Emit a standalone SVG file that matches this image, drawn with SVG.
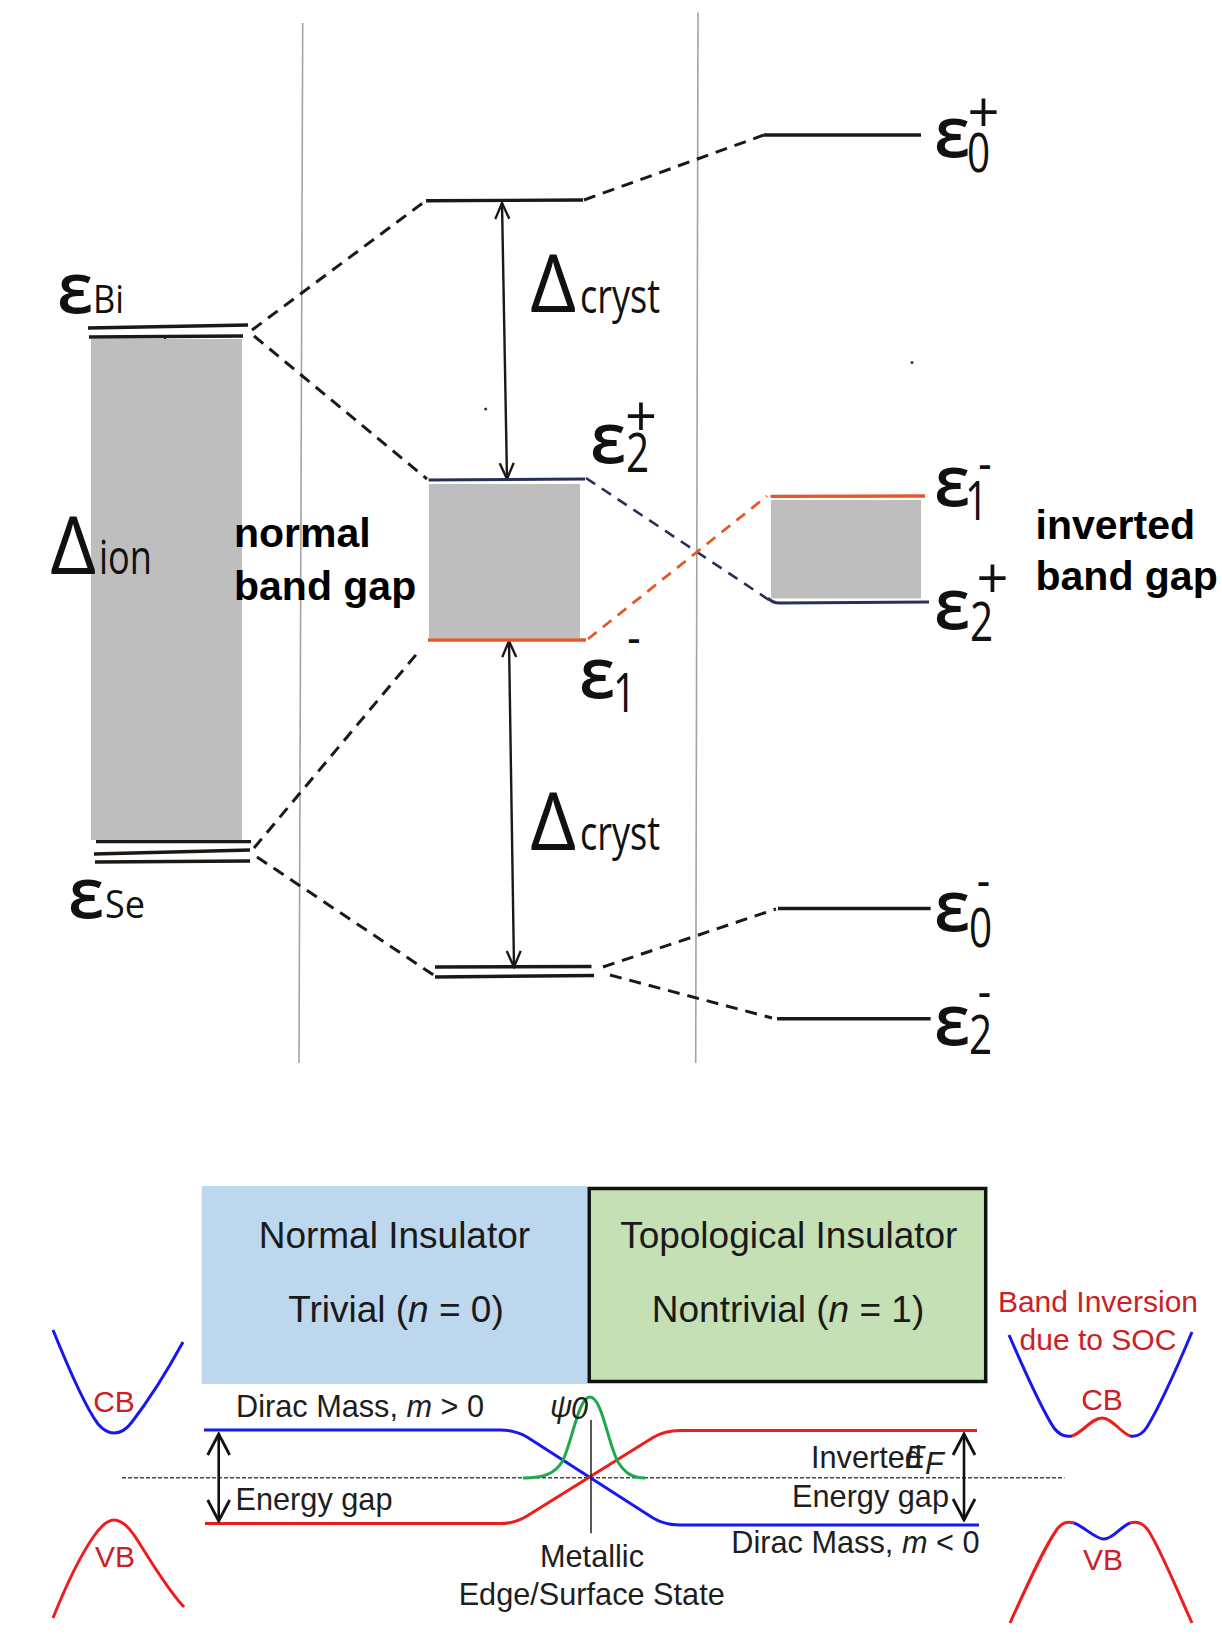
<svg xmlns="http://www.w3.org/2000/svg" width="1222" height="1636" viewBox="0 0 1222 1636">
<style>
.guide{stroke:#a3a3a3;stroke-width:1.6;fill:none}
.lvl{stroke:#1c1815;stroke-width:3.4;fill:none;stroke-linecap:butt}
.navy{stroke:#27305c;stroke-width:3;fill:none}
.orng{stroke:#e2592a;stroke-width:3.4;fill:none}
.gap{fill:#bebebe}
.dash{stroke:#1c1815;stroke-width:3;fill:none;stroke-dasharray:12 8}
.dashN{stroke:#27305c;stroke-width:2.6;fill:none;stroke-dasharray:11 8}
.dashO{stroke:#e2592a;stroke-width:2.8;fill:none;stroke-dasharray:11 8}
.arr{stroke:#1c1815;stroke-width:2.4;fill:none;marker-start:url(#chev1);marker-end:url(#chev1)}
.arr2{stroke:#111;stroke-width:2.6;fill:none;marker-start:url(#chev2);marker-end:url(#chev2)}
.eps{font-family:"Open Sans","Noto Sans",sans-serif;font-size:70px;font-weight:600;fill:#111}
.dig{font-family:"Open Sans","Noto Sans",sans-serif;font-size:54px;fill:#111}
.pm{font-family:"Open Sans","Noto Sans",sans-serif;font-size:56px;fill:#111}
.mn{font-family:"Open Sans","Noto Sans",sans-serif;font-size:40px;font-weight:600;fill:#111}
.del{font-family:"Open Sans","Noto Sans",sans-serif;font-size:80px;fill:#111}
.subt{font-family:"Open Sans","Noto Sans",sans-serif;font-size:47px;fill:#111}
.el{font-family:"Open Sans","Noto Sans",sans-serif;font-size:38px;fill:#111}
.bold{font-family:"Liberation Sans",Arial,sans-serif;font-size:41px;font-weight:bold;fill:#000}
.hd{font-family:"Liberation Sans",Arial,sans-serif;font-size:37px;fill:#1a1a1a;text-anchor:middle}
.bt{font-family:"Liberation Sans",Arial,sans-serif;font-size:30.7px;fill:#1e1e1e}
.rt{font-family:"Liberation Sans",Arial,sans-serif;font-size:30px;fill:#cc2026;text-anchor:middle}
.bl{stroke:#1717ee;stroke-width:3;fill:none}
.rd{stroke:#ee1c1c;stroke-width:3;fill:none}
</style>
<defs>
<marker id="chev1" viewBox="-20 -10 22 20" refX="0" refY="0" markerWidth="22" markerHeight="20" orient="auto-start-reverse" markerUnits="userSpaceOnUse">
<path d="M-16,-7 L0,0 L-16,7" fill="none" stroke="#1c1815" stroke-width="2.4"/>
</marker>
<marker id="chev2" viewBox="-24 -13 26 26" refX="0" refY="0" markerWidth="26" markerHeight="26" orient="auto-start-reverse" markerUnits="userSpaceOnUse">
<path d="M-21,-11 L0,0 L-21,11" fill="none" stroke="#111" stroke-width="2.8"/>
</marker>
</defs>
<rect width="1222" height="1636" fill="#fff"/>

<g id="guides">
<line class="guide" x1="302.7" y1="23" x2="299" y2="1063"/>
<line class="guide" x1="698" y1="12.5" x2="695.7" y2="1063"/>
</g>

<g id="connectors">
<path class="dash" d="M252,330 L424,202"/>
<path class="dash" d="M254,336 L427,479"/>
<path class="dash" d="M254,848 L420,650"/>
<path class="dash" d="M257,857 L435,976"/>
<path class="dash" d="M584,200 L764,135"/>
<path class="dashN" d="M586,478 L769,600"/>
<path class="dashO" d="M588,639 L767,496"/>
<path class="dash" d="M603,967 L776,909"/>
<path class="dash" d="M610,975 L772,1018"/>
<path class="arr" d="M165,339 L171,841"/>
<path class="arr" d="M502,203 L507,479"/>
<path class="arr" d="M509,641 L514,967"/>
</g>

<g id="atomic-Bi">
<rect class="gap" x="91" y="339" width="151" height="501"/>
<line class="lvl" x1="88" y1="328" x2="248" y2="325"/>
<line class="lvl" x1="89" y1="337" x2="243" y2="336"/>
<text class="eps" x="57" y="313">ε</text>
<text class="el" x="93" y="313" textLength="31" lengthAdjust="spacingAndGlyphs">Bi</text>
</g>

<g id="atomic-Se">
<line class="lvl" x1="96" y1="841.6" x2="251" y2="841.6"/>
<line class="lvl" x1="94" y1="854" x2="250" y2="850"/>
<line class="lvl" x1="95" y1="862" x2="250" y2="861"/>
<text class="eps" x="68" y="918">ε</text>
<text class="el" x="105" y="918" textLength="40" lengthAdjust="spacingAndGlyphs">Se</text>
</g>

<g id="ion-gap">
<text class="del" x="50" y="574">Δ</text>
<text class="subt" x="99" y="574" textLength="53" lengthAdjust="spacingAndGlyphs">ion</text>
<text class="bold" x="234" y="547">normal</text>
<text class="bold" x="234" y="600">band gap</text>
</g>

<g id="crystal-top">
<line class="lvl" x1="426" y1="200.7" x2="583" y2="200"/>
</g>

<g id="crystal-gap">
<rect class="gap" x="429" y="484" width="151" height="154"/>
<line class="navy" x1="428.6" y1="480" x2="585" y2="479"/>
<line class="orng" x1="428" y1="640" x2="586" y2="640"/>
<text class="eps" x="590" y="463">ε</text>
<text class="dig" transform="translate(626,472) scale(0.75,1)">2</text>
<text class="pm" x="625" y="436">+</text>
<text class="eps" x="579" y="698">ε</text>
<text class="dig" transform="translate(613,712) scale(0.75,1)">1</text>
<text class="mn" x="627.6" y="652">-</text>
</g>

<g id="crystal-bottom">
<line class="lvl" x1="435" y1="967" x2="591.5" y2="966.5"/>
<line class="lvl" x1="435" y1="977" x2="594" y2="975.5"/>
</g>

<g id="cryst-labels">
<text class="del" x="530" y="312">Δ</text>
<text class="subt" x="580" y="312.7" textLength="80" lengthAdjust="spacingAndGlyphs">cryst</text>
<text class="del" x="530" y="850">Δ</text>
<text class="subt" x="580" y="850" textLength="80" lengthAdjust="spacingAndGlyphs">cryst</text>
</g>

<g id="soc-e0p">
<line class="lvl" x1="764" y1="135" x2="921" y2="135"/>
<text class="eps" x="934" y="157">ε</text>
<text class="dig" transform="translate(967,172) scale(0.75,1)">0</text>
<text class="pm" x="967.5" y="131.7">+</text>
</g>

<g id="soc-gap">
<rect class="gap" x="771" y="500" width="150" height="98.5"/>
<line class="orng" x1="770.5" y1="496.4" x2="925" y2="496"/>
<path class="navy" d="M768,598 Q772,603 780,603 L929,602"/>
<text class="eps" x="934" y="506">ε</text>
<text class="dig" transform="translate(965,520) scale(0.75,1)">1</text>
<text class="mn" x="978.6" y="478">-</text>
<text class="eps" x="934" y="629">ε</text>
<text class="dig" transform="translate(970,641) scale(0.75,1)">2</text>
<text class="pm" x="976.5" y="598">+</text>
<text class="bold" x="1035.5" y="539">inverted</text>
<text class="bold" x="1035.5" y="590">band gap</text>
</g>

<g id="soc-e0m">
<line class="lvl" x1="778" y1="908.5" x2="930.6" y2="908.5"/>
<text class="eps" x="934" y="931">ε</text>
<text class="dig" transform="translate(969,947) scale(0.75,1)">0</text>
<text class="mn" x="977" y="894.5">-</text>
</g>

<g id="soc-e2m">
<line class="lvl" x1="777" y1="1018.7" x2="930.6" y2="1018.7"/>
<text class="eps" x="934" y="1045">ε</text>
<text class="dig" transform="translate(969,1054) scale(0.75,1)">2</text>
<text class="mn" x="978" y="1006">-</text>
</g>

<g id="specks">
<circle cx="485.7" cy="409" r="1.5" fill="#333"/>
<circle cx="912" cy="362.5" r="1.5" fill="#333"/>
</g>

<g id="normal-insulator">
<rect x="201.7" y="1186" width="385.5" height="198" fill="#bdd7ee"/>
<text class="hd" x="394.4" y="1248">Normal Insulator</text>
<text class="hd" x="396" y="1321.7">Trivial (<tspan font-style="italic">n</tspan> = 0)</text>
</g>

<g id="topological-insulator">
<rect x="589.2" y="1188.5" width="396.5" height="193" fill="#c5e0b4" stroke="#111" stroke-width="3.5"/>
<text class="hd" x="788.8" y="1248">Topological Insulator</text>
<text class="hd" x="788" y="1321.7">Nontrivial (<tspan font-style="italic">n</tspan> = 1)</text>
</g>

<g id="left-bands">
<path class="bl" d="M53,1330 C70,1372 86,1408 98,1424 C104,1431 109,1433 114,1433 C120,1433 126,1430 132,1422 C145,1405 165,1375 183,1342"/>
<text class="rt" x="114" y="1411.7">CB</text>
<path class="rd" d="M53,1618 C65,1588 80,1556 94,1536 C101,1526 107,1520 114,1520 C121,1520 127,1525 134,1535 C148,1556 166,1588 184,1607"/>
<text class="rt" x="115" y="1566.7">VB</text>
</g>

<g id="right-bands">
<text class="rt" x="1098" y="1311.7">Band Inversion</text>
<text class="rt" x="1098" y="1350">due to SOC</text>
<path class="bl" d="M1009,1335 C1025,1372 1042,1410 1054,1428 C1060,1436 1066,1437 1072,1436"/>
<path class="rd" d="M1072,1436 C1082,1433 1092,1418 1102,1418 C1112,1418 1120,1432 1130,1436"/>
<path class="bl" d="M1130,1436 C1136,1437 1142,1435 1147,1427 C1160,1406 1176,1370 1192,1332"/>
<text class="rt" x="1102" y="1410">CB</text>
<path class="rd" d="M1010,1623 C1025,1590 1045,1545 1058,1528 C1063,1522 1068,1521 1074,1523"/>
<path class="bl" d="M1074,1523 C1085,1527 1095,1539 1104,1539 C1113,1539 1120,1527 1130,1523"/>
<path class="rd" d="M1130,1523 C1136,1521 1142,1522 1148,1530 C1160,1548 1177,1590 1192,1623"/>
<text class="rt" x="1103" y="1570">VB</text>
</g>

<g id="edge-state">
<line x1="122" y1="1477.7" x2="1064.5" y2="1477.7" stroke="#444" stroke-width="1.5" stroke-dasharray="4 2"/>
<path class="bl" d="M204,1430 H500 Q515,1430 527,1437 L653,1518 Q665,1525 680,1525 H979"/>
<path class="rd" d="M205,1523.5 H500 Q515,1523.5 527,1516 L653,1437.5 Q665,1430.5 680,1430.5 H977"/>
<path d="M523,1478 C545,1478 555,1473 562,1462 C572,1444 578,1397 590,1397 C602,1397 608,1444 618,1462 C625,1473 632,1478 645,1478" stroke="#1faa4a" stroke-width="3" fill="none"/>
<line x1="591" y1="1420" x2="591" y2="1533.3" stroke="#222" stroke-width="1.5"/>
<text class="bt" x="550" y="1417" font-style="italic" font-size="26">ψ</text>
<text class="bt" x="571" y="1419" font-style="italic" font-size="22">0</text>
<text class="bt" x="592" y="1566.7" text-anchor="middle">Metallic</text>
<text class="bt" x="591.7" y="1605" text-anchor="middle">Edge/Surface State</text>
</g>

<g id="gap-labels">
<text class="bt" x="236" y="1416.7">Dirac Mass, <tspan font-style="italic">m</tspan> &gt; 0</text>
<path class="arr2" d="M218.7,1434 L218.7,1521"/>
<text class="bt" x="235.5" y="1510">Energy gap</text>
<text class="bt" x="811" y="1468.3">Inverted</text>
<text class="bt" x="905" y="1468.3" font-style="italic">E</text>
<text class="bt" x="925" y="1474" font-style="italic" font-size="20">F</text>
<path class="arr2" d="M964,1434 L964,1520"/>
<text class="bt" x="949" y="1506.7" text-anchor="end">Energy gap</text>
<text class="bt" x="979.5" y="1553.3" text-anchor="end">Dirac Mass, <tspan font-style="italic">m</tspan> &lt; 0</text>
</g>
</svg>
